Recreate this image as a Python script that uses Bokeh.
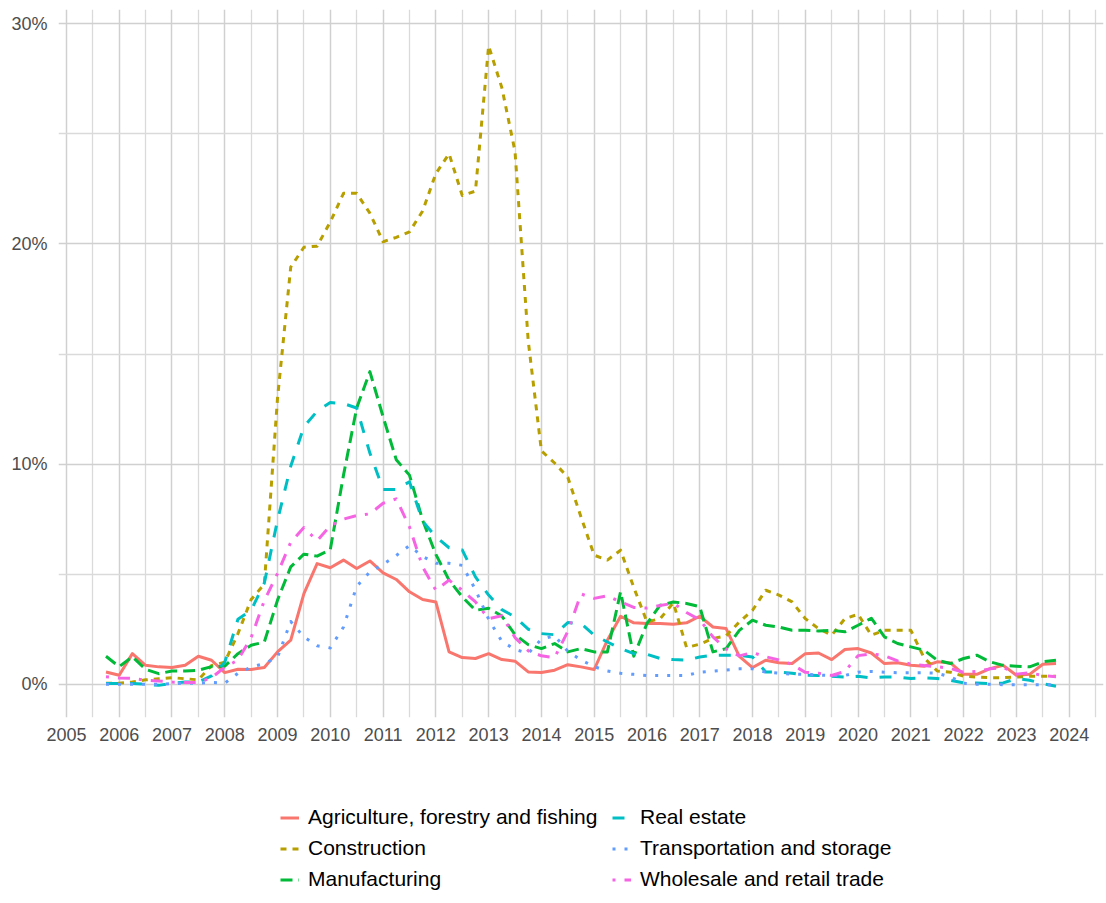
from bokeh.plotting import figure
from bokeh.models import (Range1d, FixedTicker, PrintfTickFormatter, Legend,
                          LegendItem, ColumnDataSource)
from bokeh.layouts import column
from bokeh.embed import file_html
from bokeh.resources import INLINE

# ---------------- data ----------------
quarters = [f"{y} Q{q}" for y in range(2005, 2024) for q in range(1, 5)][3:]  # 2005 Q4 .. 2023 Q4

agriculture = [0.56, 0.41, 1.39, 0.86, 0.79, 0.76, 0.86, 1.27, 1.09, 0.53,
               0.68, 0.67, 0.76, 1.47, 2.0, 4.12, 5.48, 5.29, 5.64, 5.26,
               5.6, 5.06, 4.76, 4.2, 3.85, 3.74, 1.47, 1.21, 1.17, 1.39,
               1.12, 1.05, 0.56, 0.53, 0.64, 0.89, 0.79, 0.67, 2.0, 3.09,
               2.79, 2.76, 2.76, 2.73, 2.79, 3.09, 2.6, 2.53, 1.27, 0.76,
               1.09, 0.98, 0.94, 1.39, 1.42, 1.12, 1.58, 1.62, 1.42, 0.94,
               0.98, 0.86, 0.82, 1.02, 0.97, 0.45, 0.45, 0.71, 0.86, 0.41,
               0.45, 0.91, 0.94]
construction = [0.05, 0.05, 0.1, 0.2, 0.25, 0.3, 0.25, 0.2, 0.85, 1.0,
                2.3, 3.85, 4.55, 13.0, 18.95, 19.85, 19.9, 21.0, 22.3, 22.3,
                21.4, 20.1, 20.3, 20.55, 21.5, 23.2, 24.1, 22.2, 22.4, 29.0,
                27.1, 24.2, 15.6, 10.6, 10.05, 9.4, 7.6, 5.86, 5.64, 6.09,
                4.4, 2.83, 2.98, 3.7, 1.67, 1.82, 2.08, 2.2, 2.83, 3.36,
                4.27, 4.05, 3.74, 2.98, 2.53, 2.23, 2.98, 3.18, 2.23, 2.45,
                2.45, 2.45, 1.2, 0.6, 0.55, 0.36, 0.33, 0.3, 0.3, 0.33,
                0.36, 0.36, 0.36]
manufacturing = [1.27, 0.8, 1.25, 0.68, 0.48, 0.6, 0.6, 0.64, 0.8, 0.82,
                 1.39, 1.77, 1.92, 3.82, 5.33, 5.91, 5.82, 6.12, 9.5, 12.55,
                 14.2, 12.15, 10.2, 9.5, 7.45, 5.9, 4.73, 3.97, 3.36, 3.45,
                 3.1, 2.25, 1.8, 1.62, 1.85, 1.47, 1.62, 1.47, 1.47, 4.2,
                 1.27, 2.76, 3.59, 3.74, 3.67, 3.52, 1.47, 1.62, 2.45, 2.91,
                 2.68, 2.6, 2.45, 2.45, 2.42, 2.45, 2.38, 2.68, 3.0, 2.15,
                 1.85, 1.7, 1.55, 1.09, 0.94, 1.17, 1.32, 1.02, 0.86, 0.82,
                 0.79, 1.02, 1.09]
real_estate = [0.03, 0.03, 0.03, 0.0, -0.05, 0.05, 0.1, 0.1, 0.38, 1.0,
               2.95, 3.36, 4.6, 7.45, 9.9, 11.7, 12.4, 12.8, 12.75, 12.55,
               10.5, 8.85, 8.85, 9.2, 7.4, 6.7, 6.2, 6.1, 4.88, 4.05,
               3.39, 3.06, 2.5, 2.3, 2.25, 2.8, 2.76, 2.23, 1.92, 1.62,
               1.39, 1.36, 1.17, 1.12, 1.09, 1.24, 1.32, 1.32, 1.32, 1.24,
               0.56, 0.56, 0.5, 0.41, 0.4, 0.36, 0.33, 0.36, 0.29, 0.33,
               0.33, 0.26, 0.29, 0.26, 0.18, 0.06, 0.06, 0.03, 0.06, 0.26,
               0.18, 0.03, -0.09]
transportation = [0.0, 0.0, 0.0, 0.0, 0.0, 0.03, 0.05, 0.05, 0.08, 0.05,
                  0.5, 0.78, 0.94, 1.22, 2.85, 2.15, 1.75, 1.65, 2.6, 4.45,
                  5.1, 5.45, 5.85, 6.3, 5.8, 5.5, 5.5, 5.4, 4.3, 2.95,
                  1.95, 1.58, 1.4, 2.05, 2.2, 1.5, 1.1, 0.8, 0.6, 0.5,
                  0.45, 0.4, 0.4, 0.4, 0.4, 0.55, 0.6, 0.65, 0.7, 0.7,
                  0.55, 0.5, 0.46, 0.45, 0.42, 0.4, 0.4, 0.55, 0.58, 0.55,
                  0.52, 0.52, 0.52, 0.5, 0.33, 0.05, 0.0, 0.0, -0.02, -0.02,
                  -0.02, -0.02, -0.02]
wholesale = [0.34, 0.28, 0.27, 0.18, 0.15, 0.1, 0.08, 0.08, 0.3, 0.77,
             1.1, 2.12, 3.8, 5.03, 6.45, 7.12, 6.52, 7.2, 7.5, 7.66,
             7.74, 8.22, 8.42, 7.15, 5.33, 4.27, 4.73, 4.27, 3.74, 2.98,
             3.11, 2.12, 1.52, 1.29, 1.21, 2.4, 4.1, 3.9, 4.02, 3.74,
             3.49, 3.46, 3.58, 3.68, 3.26, 2.93, 2.15, 1.6, 1.29, 1.44,
             1.25, 1.1, 0.9, 0.54, 0.5, 0.4, 0.58, 1.3, 1.38, 1.3,
             1.06, 0.92, 0.85, 0.8, 0.72, 0.54, 0.58, 0.7, 0.77, 0.46,
             0.52, 0.4, 0.34]

series_names = ["Agriculture, forestry and fishing", "Construction", "Manufacturing",
                "Real estate", "Transportation and storage", "Wholesale and retail trade"]
year_ticks = list(range(2005, 2025))
pct_ticks = [0, 10, 20, 30]

# ---------------- styles ----------------
colors = ["#F8766D", "#B79F00", "#00BA38", "#00BFC4", "#619CFF", "#F564E3"]
dashes = ["solid", "6 6", "12 6", "12 12", "3 9", "3 9 12 9"]
FONT = "Liberation Sans"
LW = 3

x = [int(s[:4]) + (int(s[-1]) - 1) / 4 for s in quarters]
cols = ["agr", "con", "man", "rea", "tra", "who"]
src = ColumnDataSource(dict(x=x, agr=agriculture, con=construction, man=manufacturing,
                            rea=real_estate, tra=transportation, who=wholesale))

p = figure(width=1106, height=760,
           x_range=Range1d(2004.85, 2024.65), y_range=Range1d(-1.51, 30.65),
           output_backend="svg", toolbar_location=None,
           min_border_left=58, min_border_right=3, min_border_top=9, min_border_bottom=43)
p.outline_line_color = None
p.background_fill_color = "white"
p.border_fill_color = "white"

xt = FixedTicker(ticks=year_ticks, minor_ticks=[y + 0.5 for y in year_ticks])
yt = FixedTicker(ticks=pct_ticks, minor_ticks=[5, 15, 25])
p.xaxis.ticker = xt
p.yaxis.ticker = yt
p.xgrid.ticker = xt
p.ygrid.ticker = yt
p.xaxis.formatter = PrintfTickFormatter(format="%d")
p.yaxis.formatter = PrintfTickFormatter(format="%d%%")

for ax in (p.xaxis, p.yaxis):
    ax.axis_line_color = None
    ax.major_tick_line_color = None
    ax.minor_tick_line_color = None
    ax.major_tick_out = 0
    ax.major_tick_in = 0
    ax.minor_tick_out = 0
    ax.major_label_text_font = FONT
    ax.major_label_text_font_size = "18px"
    ax.major_label_text_color = "#4D4D4D"
p.xaxis.major_label_standoff = 10
p.yaxis.major_label_standoff = 11

for g in (p.xgrid, p.ygrid):
    g.grid_line_color = "#D0D0D0"
    g.grid_line_width = 1.5
    g.minor_grid_line_color = "#DADADA"
    g.minor_grid_line_width = 1.3

for c, color, dash in zip(cols, colors, dashes):
    p.line("x", c, source=src, line_color=color, line_width=LW, line_dash=dash,
           line_join="round")

# ---------------- legend panel (below the chart) ----------------
lg = figure(width=1106, height=143, x_range=Range1d(0, 1106), y_range=Range1d(0, 143),
            output_backend="svg", toolbar_location=None, min_border=0,
            x_axis_location=None, y_axis_location=None)
lg.outline_line_color = None
lg.grid.visible = False
items = []
for name, c, color, dash in zip(series_names, cols, colors, dashes):
    # same data, lies outside this panel's ranges, so only the legend keys show
    r = lg.line("x", c, source=src, line_color=color, line_width=LW, line_dash=dash)
    items.append(LegendItem(label=name, renderers=[r]))

legend = Legend(items=items, location=(222, 12), orientation="vertical", nrows=3,
                label_text_font=FONT, label_text_font_size="21px", label_text_color="black",
                glyph_width=19, glyph_height=21, label_height=21, label_width=297,
                label_standoff=9, spacing=7, padding=0, margin=0,
                border_line_color=None, background_fill_alpha=0)
lg.add_layout(legend, "center")

layout = column(p, lg)
open("out.html", "w").write(file_html(layout, INLINE))
